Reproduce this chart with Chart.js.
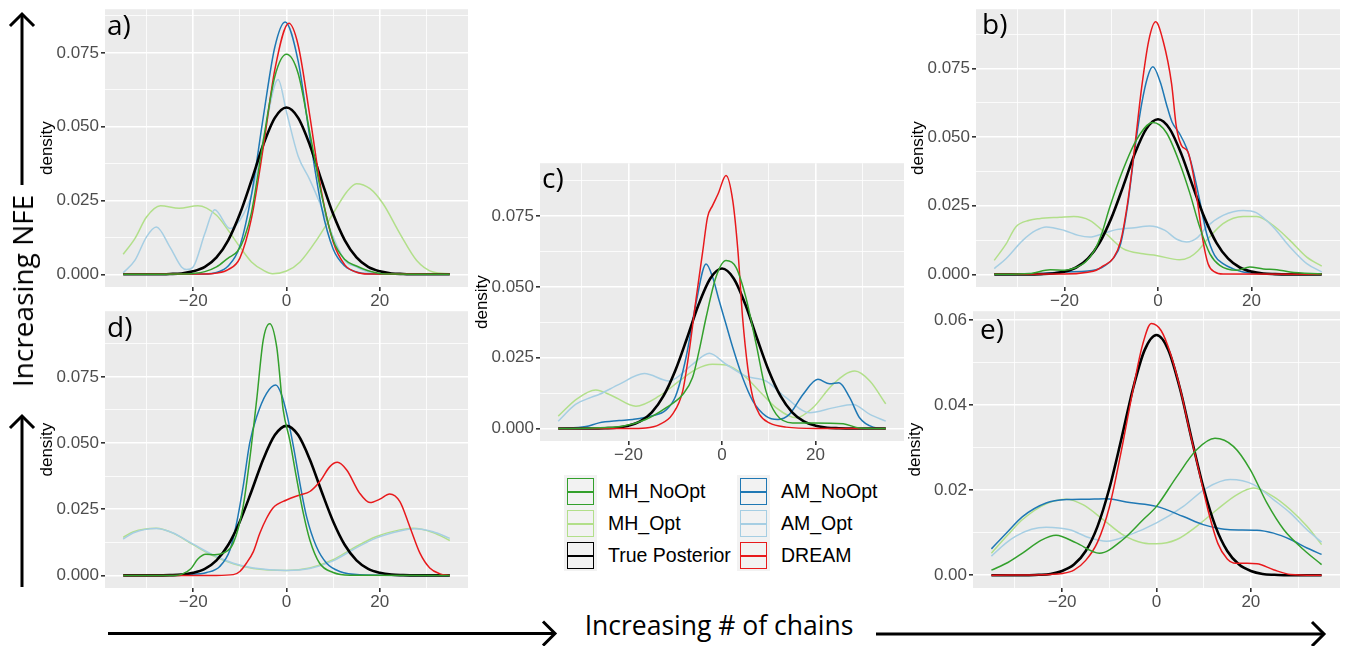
<!DOCTYPE html>
<html>
<head>
<meta charset="utf-8">
<script src="https://cdn.jsdelivr.net/npm/chart.js@4.4.1/dist/chart.umd.min.js"></script>
<style>
  html, body { margin: 0; padding: 0; background: #fff; overflow: hidden; }
  #page { position: relative; width: 1349px; height: 646px; }
  canvas.panel { position: absolute; }
  .big { position: absolute; font-family: "Open Sans", sans-serif; color: #000; white-space: nowrap; line-height: 1; }
  .key { position: absolute; background: #f2f2f2; width: 33px; height: 32px; }
  .key .box { position: absolute; left: 3px; top: 3px; width: 27px; height: 27px; box-sizing: border-box; border: 1.6px solid; }
  .key .mid { position: absolute; left: 3px; top: 15.5px; width: 27px; height: 2px; }
  .lab { position: absolute; font-family: "Liberation Sans", Arial, sans-serif; font-size: 19.5px; line-height: 1; transform: translateY(-50%); white-space: nowrap; }
  svg { position: absolute; left: 0; top: 0; }
</style>
</head>
<body>
<div id="page">
  <svg width="1349" height="646" id="arrows"></svg>
  <canvas class="panel" id="pa"></canvas>
  <canvas class="panel" id="pb"></canvas>
  <canvas class="panel" id="pc"></canvas>
  <canvas class="panel" id="pd"></canvas>
  <canvas class="panel" id="pe"></canvas>
  <div id="legend"></div>
  <div class="big" style="font-size:28px; left:22px; top:291px; transform:translate(-50%,-50%) rotate(-90deg);">Increasing NFE</div>
  <div class="big" style="font-size:26.5px; left:719px; top:625px; transform:translate(-50%,-50%);">Increasing # of chains</div>
</div>
<script>
// axis ticks
const X_TICKS = [-30, -20, -10, 0, 10, 20, 30];
const X_LABELS = ['', '\u221220', '', '0', '', '20', ''];
const Y_TICKS = [0, 0.0125, 0.025, 0.0375, 0.05, 0.0625, 0.075, 0.0875];
const Y_LABELS = ['0.000', '', '0.025', '', '0.050', '', '0.075', ''];
const Y_TICKS_E = [0, 0.01, 0.02, 0.03, 0.04, 0.05, 0.06];
const Y_LABELS_E = ['0.00', '', '0.02', '', '0.04', '', '0.06'];

// legend
const LEGEND_COL1 = ['MH_NoOpt', 'MH_Opt', 'True Posterior'];
const LEGEND_COL2 = ['AM_NoOpt', 'AM_Opt', 'DREAM'];

// density curves, [x, density]
const truePosterior = [[-35,0],[-27.5,0],[-25,0.0001],[-22.5,0.0003],[-20,0.001],[-17.5,0.0025],[-15,0.0057],[-12.5,0.0115],[-10,0.0204],[-7.5,0.0318],[-5,0.0438],[-2.5,0.053],[0,0.0565],[2.5,0.053],[5,0.0438],[7.5,0.0318],[10,0.0204],[12.5,0.0115],[15,0.0057],[17.5,0.0025],[20,0.001],[22.5,0.0003],[25,0.0001],[27.5,0],[35,0]];

// a)
const a_MH_NoOpt = [[-35,0],[-22.5,0.0001],[-20,0.0003],[-17.5,0.0009],[-15,0.0025],[-12.5,0.0055],[-10.5,0.0078],[-9,0.0125],[-7.5,0.021],[-5,0.045],[-2.5,0.067],[0,0.0745],[2.5,0.068],[5,0.048],[7.5,0.027],[10,0.0115],[12.5,0.005],[15,0.0028],[17.5,0.0012],[20,0.0003],[22.5,0.0001],[35,0]];
const a_AM_NoOpt = [[-35,0],[-17.5,0.0001],[-15,0.0006],[-12.5,0.0028],[-10,0.0095],[-7.5,0.027],[-5,0.053],[-2.5,0.077],[-0.3,0.0855],[2.5,0.0722],[5,0.0464],[7.5,0.0228],[10,0.0086],[12.5,0.0028],[15,0.0008],[17.5,0.0002],[35,0]];
const a_DREAM = [[-35,0],[-17.5,0.0001],[-15,0.0004],[-12.5,0.0016],[-10,0.0055],[-7.5,0.019],[-5,0.0427],[-2.5,0.0693],[0.5,0.085],[2.5,0.0776],[5,0.0537],[7.5,0.0279],[10,0.011],[12.5,0.0032],[15,0.0007],[17.5,0.0001],[35,0]];
const a_AM_Opt = [[-35,0.0005],[-32.5,0.0047],[-30,0.0127],[-27.9,0.016],[-25,0.0093],[-22.5,0.0025],[-21.4,0.0016],[-20,0.0025],[-17.5,0.0138],[-15.4,0.0219],[-12.1,0.0155],[-10,0.0183],[-7.5,0.027],[-5,0.0454],[-1.8,0.066],[0,0.055],[2.5,0.04],[5,0.032],[7.5,0.0228],[10,0.0127],[12.5,0.0047],[15,0.0025],[17.5,0.0008],[20,0.0002],[25,0],[35,0]];
const a_MH_Opt = [[-35,0.0068],[-32.5,0.0121],[-30,0.0194],[-27,0.0232],[-23,0.0224],[-19,0.0232],[-15,0.02],[-12.5,0.0149],[-10,0.0093],[-7.5,0.0042],[-5,0.0014],[-3,0.0002],[0,0.0011],[2.9,0.0042],[6.4,0.0115],[10,0.0206],[12.9,0.0279],[15,0.0307],[17.9,0.029],[20.7,0.0239],[24.3,0.0138],[27.9,0.0047],[31.4,0.0008],[35,0.0002]];

// b)
const b_MH_NoOpt = [[-35,0],[-27.5,0.0003],[-23,0.0017],[-20,0.0015],[-17.5,0.0025],[-15.5,0.0045],[-13.5,0.009],[-12,0.015],[-10.4,0.024],[-7.5,0.038],[-4.6,0.049],[-1.1,0.0553],[1.8,0.0516],[4.6,0.0407],[6.8,0.0296],[8.9,0.0173],[11.1,0.0075],[13.2,0.0033],[16.8,0.0015],[19.6,0.0027],[22.5,0.002],[25.4,0.0017],[28.2,0.0009],[35,0.0001]];
const b_AM_NoOpt = [[-35,0],[-25,0.0003],[-20,0.0009],[-15,0.0012],[-12,0.0025],[-9.5,0.006],[-8,0.011],[-6.5,0.025],[-5,0.045],[-3.5,0.062],[-2.2,0.072],[-1.1,0.0756],[0.5,0.07],[1.8,0.062],[3,0.0555],[4.6,0.0513],[6.1,0.046],[7.5,0.038],[8.9,0.027],[10.4,0.0148],[12.1,0.0069],[13.9,0.0039],[16.1,0.002],[18.2,0.0009],[21,0.0003],[35,0]];
const b_DREAM = [[-35,0],[-20,0.0001],[-15,0.0008],[-13.2,0.0015],[-11.8,0.003],[-9.5,0.006],[-8,0.012],[-6.5,0.026],[-5,0.046],[-3.5,0.068],[-2,0.085],[-0.5,0.092],[1.1,0.085],[2.9,0.0695],[3.9,0.054],[5,0.047],[6.4,0.0446],[7.5,0.0367],[8.6,0.0245],[9.6,0.0124],[10.7,0.0039],[12.1,0.0009],[13.9,0.0001],[35,0]];
const b_AM_Opt = [[-35,0.0021],[-32.5,0.0057],[-28.9,0.0124],[-26.1,0.016],[-23.9,0.0173],[-20,0.016],[-17,0.0142],[-14.6,0.0136],[-11.5,0.015],[-8.9,0.0163],[-5,0.017],[-1.8,0.0176],[1.5,0.016],[4,0.0128],[6.1,0.0118],[8.5,0.0135],[10.4,0.0173],[13.9,0.0215],[18.2,0.0233],[21,0.0225],[24.6,0.0173],[28.2,0.01],[31.8,0.0039],[35,0.0009]];
const b_MH_Opt = [[-35,0.0051],[-32.5,0.011],[-30.4,0.0173],[-27.5,0.0197],[-25.4,0.0203],[-21,0.0208],[-18,0.0211],[-14.6,0.0197],[-11.1,0.0148],[-7.5,0.0094],[-3.2,0.0075],[-0.4,0.0069],[4.6,0.0053],[6.8,0.0063],[8.5,0.0085],[10.4,0.0124],[13.9,0.0185],[18.2,0.0211],[21.1,0.0211],[24.6,0.0179],[28.2,0.0124],[31.8,0.0063],[35,0.003]];

// c)
const c_MH_NoOpt = [[-35,0],[-27.7,0.0002],[-21.3,0.0008],[-16.3,0.0032],[-12,0.0073],[-8.4,0.012],[-6.3,0.018],[-4.9,0.0274],[-3.4,0.0392],[-1.3,0.0534],[0.86,0.0593],[3,0.0569],[5.1,0.0463],[7.3,0.0298],[9.4,0.0132],[11.6,0.005],[15.1,0.002],[19.4,0.002],[25.9,0.0017],[29.4,0.0002],[35,0]];
const c_AM_NoOpt = [[-35,0],[-29.1,0.0007],[-26.3,0.002],[-22,0.0028],[-19.1,0.0032],[-14.9,0.0045],[-12,0.0065],[-9.9,0.0115],[-7.7,0.025],[-5.6,0.0439],[-3.4,0.0581],[-2,0.0534],[-0.6,0.0451],[0.86,0.0368],[2.3,0.0286],[4.4,0.018],[6.6,0.0097],[9.4,0.0044],[11.9,0.0032],[14.4,0.005],[17.3,0.012],[20.5,0.0174],[23,0.0158],[25,0.0162],[27.3,0.0109],[29.4,0.0038],[32.3,0.0005],[35,0]];
const c_DREAM = [[-35,0],[-20,0],[-16.3,0.0002],[-13.4,0.0014],[-10.6,0.005],[-8.4,0.0132],[-7,0.0274],[-5.6,0.0451],[-4.1,0.0628],[-3.1,0.0746],[-2,0.0788],[-0.8,0.083],[0.86,0.0894],[2.3,0.0805],[3.4,0.0628],[4.4,0.0392],[5.5,0.0215],[6.6,0.0109],[8,0.005],[10.1,0.002],[13.7,0.0005],[20,0],[35,0]];
const c_AM_Opt = [[-35,0.0026],[-31.3,0.0085],[-28,0.011],[-26.3,0.012],[-22,0.0156],[-16.6,0.0194],[-11.3,0.0168],[-6.3,0.0227],[-2.7,0.0266],[0.86,0.0227],[5.1,0.0185],[9.4,0.0168],[13.7,0.0109],[18.7,0.0056],[23.7,0.0073],[28,0.0085],[31.6,0.005],[35,0.0026]];
const c_MH_Opt = [[-35,0.0044],[-31,0.0105],[-27,0.0136],[-23.4,0.0115],[-18.4,0.0079],[-13.4,0.0115],[-9.1,0.0168],[-5.6,0.0209],[-2,0.0227],[0.86,0.0224],[4.4,0.0191],[8,0.0132],[11.6,0.0073],[15.9,0.0038],[19.4,0.0073],[23.7,0.0156],[28.4,0.0203],[31.6,0.0168],[35,0.0087]];

// d)
const d_MH_NoOpt = [[-35,0],[-24,0],[-22.5,0.0004],[-20.5,0.0025],[-19,0.0062],[-17.3,0.008],[-15.4,0.0078],[-13.6,0.0084],[-11.4,0.0122],[-9.3,0.026],[-7.9,0.0436],[-6.4,0.0662],[-5,0.0888],[-3.6,0.0951],[-2.1,0.0863],[-0.7,0.0624],[0.7,0.0511],[2.1,0.0373],[3.6,0.0235],[5,0.0134],[7.1,0.0046],[10,0.0011],[13.6,0.0001],[35,0]];
const d_AM_NoOpt = [[-35,0],[-25,0],[-21.4,0.0003],[-17.1,0.0011],[-14.3,0.0034],[-12.1,0.0097],[-10.7,0.0197],[-9.3,0.0335],[-7.9,0.0499],[-6.4,0.0599],[-4.3,0.0687],[-2.3,0.0719],[-1,0.068],[0,0.0615],[1.4,0.0495],[2.9,0.0345],[4.3,0.0222],[6.4,0.0109],[8.6,0.0046],[11.4,0.0015],[15.7,0.0003],[35,0]];
const d_DREAM = [[-35,0],[-15,0],[-11.4,0.0003],[-10,0.0015],[-8.6,0.0046],[-7.1,0.009],[-5.7,0.016],[-4.3,0.0215],[-2.9,0.0255],[0,0.0285],[2.9,0.0304],[5,0.0317],[7.1,0.0354],[9.3,0.0411],[10.9,0.0427],[12.9,0.0398],[15.7,0.031],[17.9,0.0275],[20,0.0288],[22.1,0.0308],[24.3,0.0279],[26.4,0.0185],[28.6,0.0084],[30.7,0.0028],[32.9,0.0006],[35,0]];
const d_AM_Opt = [[-35,0.0137],[-32.9,0.016],[-27.9,0.0177],[-24.3,0.016],[-20,0.0118],[-15.7,0.0077],[-11.4,0.0046],[-7.1,0.0028],[0,0.0019],[5,0.0026],[10,0.0055],[14.3,0.0098],[19.3,0.0142],[24.3,0.0168],[27.5,0.0176],[31.4,0.0165],[35,0.014]];
const d_MH_Opt = [[-35,0.0144],[-32.9,0.0164],[-27.9,0.0178],[-24.3,0.016],[-20,0.0116],[-15.7,0.0074],[-11.4,0.0044],[-7.1,0.0026],[0,0.0019],[5,0.0028],[10,0.0059],[14.3,0.0103],[19.3,0.0147],[24.3,0.0172],[27.1,0.0178],[31.4,0.0162],[35,0.0132]];

// e)
const e_MH_NoOpt = [[-35,0.0012],[-31.5,0.003],[-28.4,0.0052],[-24.5,0.0082],[-21.3,0.0094],[-17,0.0076],[-12.1,0.0052],[-7.1,0.0084],[-2.8,0.0131],[0,0.0162],[4.3,0.0232],[8.5,0.0295],[12.4,0.0322],[16.3,0.0303],[19.9,0.0248],[23.4,0.017],[27,0.0107],[31.2,0.006],[35,0.0025]];
const e_AM_NoOpt = [[-35,0.0062],[-31.5,0.0103],[-28.4,0.0138],[-23.4,0.017],[-19.1,0.0178],[-15,0.0179],[-10.6,0.018],[-5.7,0.0171],[0,0.0162],[5.7,0.0138],[9.9,0.0119],[12.8,0.0111],[15.6,0.0107],[21.3,0.0106],[24.8,0.0099],[28.4,0.0084],[31.9,0.0064],[35,0.0049]];
const e_DREAM = [[-35,0],[-22.5,0.0002],[-20,0.0004],[-17.5,0.0012],[-15,0.0035],[-12.5,0.0078],[-10,0.016],[-7.5,0.029],[-5,0.0435],[-3,0.054],[-1.1,0.0592],[1,0.0575],[3,0.052],[5,0.044],[7,0.034],[9,0.0245],[11,0.015],[13,0.0075],[15,0.0038],[16.3,0.0029],[19,0.0028],[21.3,0.0027],[24.8,0.0013],[28.4,0.0002],[35,0]];
const e_AM_Opt = [[-35,0.0045],[-32,0.0075],[-29.8,0.0092],[-26.5,0.0108],[-23.4,0.0113],[-18.4,0.0107],[-14.2,0.0088],[-10.6,0.008],[-5.7,0.0095],[0,0.0123],[5.7,0.0162],[10.6,0.0205],[15.6,0.0225],[20.6,0.0213],[24.8,0.0178],[28.4,0.0146],[31.9,0.0107],[35,0.0078]];
const e_MH_Opt = [[-35,0.0052],[-31.5,0.0095],[-28.4,0.0131],[-23.4,0.0168],[-19.1,0.0179],[-15.6,0.0166],[-11.3,0.0131],[-7.1,0.0095],[-2.8,0.0076],[0,0.0074],[4.3,0.0084],[8.5,0.0115],[12.8,0.0154],[17,0.0189],[20.6,0.0205],[24.8,0.0185],[28.4,0.0154],[31.9,0.0115],[35,0.0072]];

const COLORS = {
  'MH_NoOpt': '#33a02c',
  'MH_Opt': '#b2df8a',
  'AM_NoOpt': '#1f78b4',
  'AM_Opt': '#a6cee3',
  'True Posterior': '#000000',
  'DREAM': '#e8191c'
};

Chart.defaults.font.family = '"Liberation Sans", Arial, sans-serif';

// gray panel background like ggplot
const panelBg = {
  id: 'panelBg',
  beforeDraw(chart) {
    const { ctx, chartArea: { left, top, width, height } } = chart;
    ctx.save();
    ctx.fillStyle = '#ebebeb';
    ctx.fillRect(left, top, width, height);
    ctx.restore();
  }
};

// the "a)" style tag in the corner
const panelTag = {
  id: 'panelTag',
  afterDraw(chart, args, opts) {
    const { ctx, chartArea } = chart;
    ctx.save();
    ctx.font = '28px "Open Sans"';
    ctx.fillStyle = '#000';
    ctx.textBaseline = 'alphabetic';
    ctx.fillText(opts.text, chartArea.left + opts.dx, chartArea.top + opts.dy);
    ctx.restore();
  }
};

const Y_AXIS_W = 68, X_AXIS_H = 30, PAD_TOP = 12, PAD_RIGHT = 6;

function makePanel(id, area, yMax, yMin, yTicks, yLabels, tag, curves) {
  const canvas = document.getElementById(id);
  canvas.width = Y_AXIS_W + (area.r - area.l) + PAD_RIGHT;
  canvas.height = PAD_TOP + (area.b - area.t) + X_AXIS_H;
  canvas.style.left = (area.l - Y_AXIS_W) + 'px';
  canvas.style.top = (area.t - PAD_TOP) + 'px';

  // first dataset is drawn on top
  const order = ['MH_NoOpt', 'DREAM', 'True Posterior', 'AM_NoOpt', 'AM_Opt', 'MH_Opt'];
  const datasets = order.map(name => ({
    label: name,
    data: curves[name].map(([x, y]) => ({ x, y })),
    borderColor: COLORS[name],
    borderWidth: name === 'True Posterior' ? 2.6 : 1.5,
    pointRadius: 0,
    fill: false,
    cubicInterpolationMode: 'monotone'
  }));

  const isMajorX = v => X_LABELS[X_TICKS.indexOf(v)] !== '';
  const isMajorY = v => yLabels[yTicks.indexOf(v)] !== '';

  return new Chart(canvas, {
    type: 'line',
    data: { datasets },
    plugins: [panelBg, panelTag],
    options: {
      responsive: false,
      animation: false,
      devicePixelRatio: 1,
      layout: { padding: { top: PAD_TOP, right: PAD_RIGHT, left: 0, bottom: 0 } },
      plugins: {
        legend: { display: false },
        tooltip: { enabled: false },
        panelTag: tag
      },
      scales: {
        x: {
          type: 'linear',
          min: -38.9,
          max: 38.9,
          afterBuildTicks: s => { s.ticks = X_TICKS.map(v => ({ value: v })); },
          afterFit: s => { s.height = X_AXIS_H; },
          border: { display: false },
          grid: {
            color: '#ffffff',
            lineWidth: c => (c.tick && isMajorX(c.tick.value)) ? 1.6 : 0.8,
            tickLength: 4,
            tickColor: c => (c.tick && isMajorX(c.tick.value)) ? '#333333' : 'rgba(0,0,0,0)'
          },
          ticks: {
            autoSkip: false,
            maxRotation: 0,
            padding: 0,
            color: '#4d4d4d',
            font: { size: 17 },
            callback: (v, i) => X_LABELS[i]
          }
        },
        y: {
          type: 'linear',
          min: yMin,
          max: yMax,
          afterBuildTicks: s => { s.ticks = yTicks.filter(v => v <= yMax).map(v => ({ value: v })); },
          afterFit: s => { s.width = Y_AXIS_W; },
          border: { display: false },
          title: { display: true, text: 'density', color: '#000', font: { size: 17 }, padding: 0 },
          grid: {
            color: '#ffffff',
            lineWidth: c => (c.tick && isMajorY(c.tick.value)) ? 1.6 : 0.8,
            tickLength: 4,
            tickColor: c => (c.tick && isMajorY(c.tick.value)) ? '#333333' : 'rgba(0,0,0,0)'
          },
          ticks: {
            autoSkip: false,
            padding: 2,
            color: '#4d4d4d',
            font: { size: 17 },
            callback: (v, i) => yLabels[i]
          }
        }
      }
    }
  });
}

makePanel('pa', { l: 105, t: 9, r: 468, b: 287 }, 0.0898, -0.0043, Y_TICKS, Y_LABELS,
  { text: 'a)', dx: 2, dy: 26 },
  { 'MH_NoOpt': a_MH_NoOpt, 'MH_Opt': a_MH_Opt, 'AM_NoOpt': a_AM_NoOpt, 'AM_Opt': a_AM_Opt, 'True Posterior': truePosterior, 'DREAM': a_DREAM });

makePanel('pb', { l: 976, t: 9, r: 1340, b: 287 }, 0.0966, -0.0046, Y_TICKS, Y_LABELS,
  { text: 'b)', dx: 6, dy: 25 },
  { 'MH_NoOpt': b_MH_NoOpt, 'MH_Opt': b_MH_Opt, 'AM_NoOpt': b_AM_NoOpt, 'AM_Opt': b_AM_Opt, 'True Posterior': truePosterior, 'DREAM': b_DREAM });

makePanel('pc', { l: 540, t: 163, r: 904, b: 441 }, 0.0937, -0.0044, Y_TICKS, Y_LABELS,
  { text: 'c)', dx: 2, dy: 25 },
  { 'MH_NoOpt': c_MH_NoOpt, 'MH_Opt': c_MH_Opt, 'AM_NoOpt': c_AM_NoOpt, 'AM_Opt': c_AM_Opt, 'True Posterior': truePosterior, 'DREAM': c_DREAM });

makePanel('pd', { l: 105, t: 311, r: 468, b: 588 }, 0.0998, -0.00475, Y_TICKS, Y_LABELS,
  { text: 'd)', dx: 2, dy: 26 },
  { 'MH_NoOpt': d_MH_NoOpt, 'MH_Opt': d_MH_Opt, 'AM_NoOpt': d_AM_NoOpt, 'AM_Opt': d_AM_Opt, 'True Posterior': truePosterior, 'DREAM': d_DREAM });

makePanel('pe', { l: 973, t: 311, r: 1340, b: 588 }, 0.0621, -0.003, Y_TICKS_E, Y_LABELS_E,
  { text: 'e)', dx: 7, dy: 28 },
  { 'MH_NoOpt': e_MH_NoOpt, 'MH_Opt': e_MH_Opt, 'AM_NoOpt': e_AM_NoOpt, 'AM_Opt': e_AM_Opt, 'True Posterior': truePosterior, 'DREAM': e_DREAM });

// legend (two columns of keys)
const legend = document.getElementById('legend');
[[LEGEND_COL1, 564, 608], [LEGEND_COL2, 737, 781]].forEach(([names, keyX, textX]) => {
  names.forEach((name, i) => {
    const top = 475 + i * 32.2;
    const key = document.createElement('div');
    key.className = 'key';
    key.style.left = keyX + 'px';
    key.style.top = top + 'px';
    key.innerHTML = '<div class="box" style="border-color:' + COLORS[name] + '"></div>' +
      '<div class="mid" style="background:' + COLORS[name] + '"></div>';
    legend.appendChild(key);
    const lab = document.createElement('div');
    lab.className = 'lab';
    lab.style.left = textX + 'px';
    lab.style.top = (top + 16.5) + 'px';
    lab.textContent = name;
    legend.appendChild(lab);
  });
});

// arrows
const svg = document.getElementById('arrows');
function arrow(x1, y1, x2, y2) {
  const ns = 'http://www.w3.org/2000/svg';
  const ang = Math.atan2(y2 - y1, x2 - x1);
  const h = 17;
  const p = [
    [x2 - h * Math.cos(ang - Math.PI / 4), y2 - h * Math.sin(ang - Math.PI / 4)],
    [x2, y2],
    [x2 - h * Math.cos(ang + Math.PI / 4), y2 - h * Math.sin(ang + Math.PI / 4)]
  ];
  const line = document.createElementNS(ns, 'line');
  line.setAttribute('x1', x1); line.setAttribute('y1', y1);
  line.setAttribute('x2', x2); line.setAttribute('y2', y2);
  line.setAttribute('stroke', '#000'); line.setAttribute('stroke-width', 3);
  svg.appendChild(line);
  const head = document.createElementNS(ns, 'polyline');
  head.setAttribute('points', p.map(q => q.join(',')).join(' '));
  head.setAttribute('fill', 'none');
  head.setAttribute('stroke', '#000');
  head.setAttribute('stroke-width', 3);
  svg.appendChild(head);
}
arrow(22, 185, 22, 14);
arrow(22, 587, 22, 416);
arrow(108, 633.5, 555, 633.5);
arrow(876, 634, 1324, 634);
</script>
</body>
</html>
